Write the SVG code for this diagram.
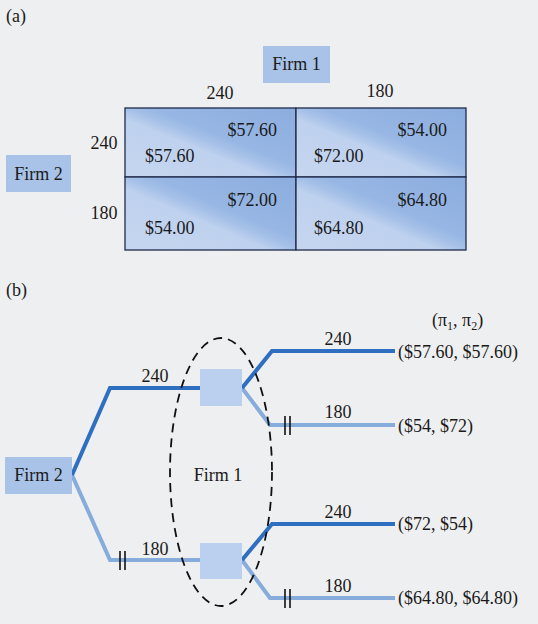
<svg xmlns="http://www.w3.org/2000/svg" width="538" height="624" viewBox="0 0 538 624">
<style>
text{font-family:"Liberation Serif","Times New Roman",serif;font-size:18px;fill:#1a1a1a}
.cell{stroke:#1f2a4a;stroke-width:1.3}
.dark{fill:none;stroke:#2f6fc2;stroke-width:4;stroke-linejoin:miter}
.light{fill:none;stroke:#86acdc;stroke-width:4;stroke-linejoin:miter}
.bar{stroke:#111;stroke-width:1.6}
.lbl{fill:#a9c3e8}
.node{fill:#bad0ee}
</style>
<defs>
<linearGradient id="g" x1="0" y1="1" x2="1" y2="0">
<stop offset="0" stop-color="#c6d6ef"/>
<stop offset="0.42" stop-color="#bed1ee"/>
<stop offset="0.5" stop-color="#a6c1e8"/>
<stop offset="0.58" stop-color="#97b6e4"/>
<stop offset="1" stop-color="#8badde"/>
</linearGradient>
</defs>
<rect width="538" height="624" fill="#eeeff0"/>
<text x="6" y="22">(a)</text>
<text x="6" y="296">(b)</text>
<g id="firm1-label"><rect class="lbl" x="263" y="46" width="67" height="37"/><text x="296.5" y="70" text-anchor="middle">Firm 1</text></g>
<g id="firm2-label"><rect class="lbl" x="6" y="155" width="65" height="37"/><text x="38.5" y="180" text-anchor="middle">Firm 2</text></g>
<g id="headers">
<text x="220" y="99" text-anchor="middle">240</text>
<text x="380" y="97" text-anchor="middle">180</text>
<text x="104" y="149" text-anchor="middle">240</text>
<text x="104" y="219" text-anchor="middle">180</text>
</g>
<g id="cell-240-240"><rect class="cell" x="125" y="108" width="171" height="69" fill="url(#g)"/><text x="277" y="136" text-anchor="end">$57.60</text><text x="145" y="162">$57.60</text></g>
<g id="cell-240-180"><rect class="cell" x="296" y="108" width="170" height="69" fill="url(#g)"/><text x="447" y="136" text-anchor="end">$54.00</text><text x="314" y="162">$72.00</text></g>
<g id="cell-180-240"><rect class="cell" x="125" y="177" width="171" height="73" fill="url(#g)"/><text x="277" y="206" text-anchor="end">$72.00</text><text x="145" y="234">$54.00</text></g>
<g id="cell-180-180"><rect class="cell" x="296" y="177" width="170" height="73" fill="url(#g)"/><text x="447" y="206" text-anchor="end">$64.80</text><text x="314" y="234">$64.80</text></g>
<g id="connectors">
<polyline class="light" points="72,475 110,560 200,560"/>
<polyline class="dark" points="72,475 110,388 200,388"/>
<polyline class="light" points="242,388 270,425 395,425"/>
<polyline class="dark" points="242,388 272,351 395,351"/>
<polyline class="light" points="242,560 270,598 395,598"/>
<polyline class="dark" points="242,560 272,524 395,524"/>
<line class="bar" x1="120" y1="551" x2="120" y2="570"/><line class="bar" x1="125" y1="551" x2="125" y2="570"/>
<line class="bar" x1="285" y1="416" x2="285" y2="435"/><line class="bar" x1="290" y1="416" x2="290" y2="435"/>
<line class="bar" x1="285" y1="589" x2="285" y2="608"/><line class="bar" x1="290" y1="589" x2="290" y2="608"/>
<text x="155" y="382" text-anchor="middle">240</text>
<text x="155" y="555" text-anchor="middle">180</text>
<text x="338" y="345" text-anchor="middle">240</text>
<text x="338" y="418" text-anchor="middle">180</text>
<text x="338" y="518" text-anchor="middle">240</text>
<text x="338" y="592" text-anchor="middle">180</text>
</g>
<g id="firm2-node"><rect class="lbl" x="5" y="457" width="67" height="37"/><text x="38.5" y="481" text-anchor="middle">Firm 2</text></g>
<g id="firm1-upper"><rect class="node" x="200" y="369" width="42" height="37"/></g>
<g id="firm1-lower"><rect class="node" x="200" y="543" width="42" height="36"/></g>
<g id="firm1-set"><ellipse cx="221" cy="472" rx="51" ry="134" fill="none" stroke="#111" stroke-width="1.8" stroke-dasharray="9 6"/><text x="218" y="481" text-anchor="middle">Firm 1</text></g>
<g id="payoffs">
<text x="432" y="326">(π<tspan font-size="12" dy="4">1</tspan><tspan dy="-4">, π</tspan><tspan font-size="12" dy="4">2</tspan><tspan dy="-4">)</tspan></text>
<text x="398" y="358">($57.60, $57.60)</text>
<text x="398" y="432">($54, $72)</text>
<text x="398" y="530">($72, $54)</text>
<text x="398" y="604">($64.80, $64.80)</text>
</g>
</svg>
